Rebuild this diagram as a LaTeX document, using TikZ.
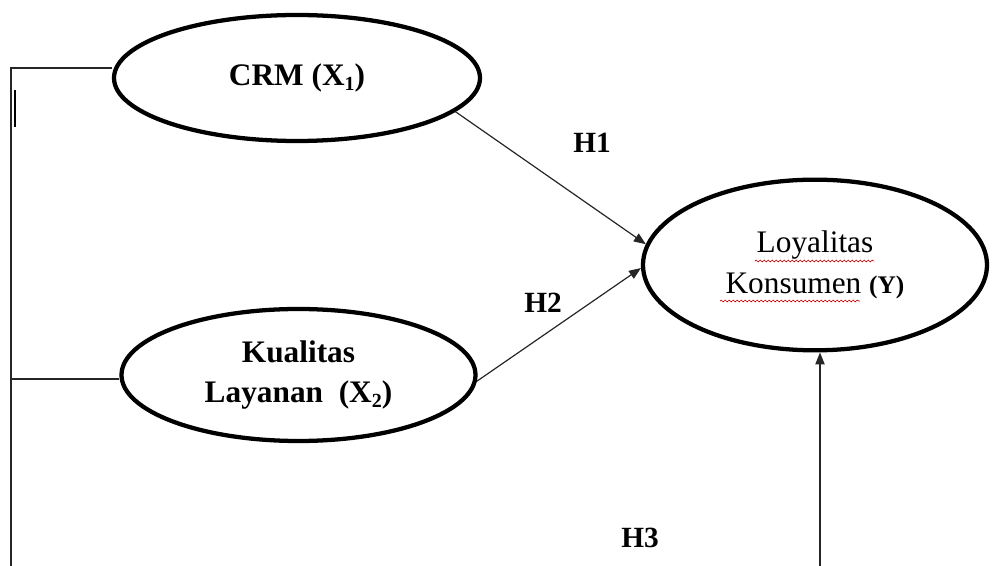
\documentclass[tikz,border=0pt]{standalone}
\usepackage{fontspec}
\setmainfont{Liberation Serif}
\usetikzlibrary{arrows.meta,decorations.pathmorphing,shapes.geometric}
\newcommand{\mysub}[1]{\raisebox{-0.35ex}{\fontsize{15}{15}\selectfont #1}}
\begin{document}
\begin{tikzpicture}[x=0.75pt,y=-0.75pt,
  ell/.style={draw, ellipse, line width=3.2pt, inner sep=0pt, align=center,
    font=\fontsize{23}{29.5}\selectfont},
  hlab/.style={font=\fontsize{22}{24}\selectfont\bfseries},
  conn/.style={line width=0.9pt, draw=black!85},
  arr/.style={conn, -{Triangle[length=9pt,width=7pt]}},
  squig/.style={draw=red!80!black, line width=0.5pt, decorate,
    decoration={snake, amplitude=0.7pt, segment length=3pt}}]
\useasboundingbox (0,0) rectangle (1001,566);
% nodes
\node[ell, minimum width=274.5pt, minimum height=94.5pt, font=\fontsize{23.5}{29.5}\selectfont\bfseries] (crm) at (297,78) {CRM (X\mysub{1})};
\node[ell, minimum width=265.5pt, minimum height=99pt, font=\fontsize{23.5}{29.5}\selectfont\bfseries] (kl) at (298.5,375) {Kualitas\\Layanan\ \ (X\mysub{2})};
\node[ell, minimum width=258pt, minimum height=128pt, font=\fontsize{23.5}{31}\selectfont] (loy) at (815,265) {Loyalitas\\Konsumen {\bfseries\fontsize{19}{19}\selectfont (Y)}};
% labels
\node[hlab] (h1) at (592,143) {H1};
\node[hlab] (h2) at (543,303) {H2};
\node[hlab] (h3) at (640,538) {H3};
% coordinates
\coordinate (tl) at (11,68);
\coordinate (ml) at (11,379);
\coordinate (bl) at (11,566);
\coordinate (b3) at (820,566);
\coordinate (bt) at (15,90);
\coordinate (bb) at (15,127);
% connectors
\draw[conn] (crm.west |- tl) -- (tl) -- (bl);
\draw[conn] (ml) -- (ml -| kl.west);
\draw[line width=2.2pt] (bt) -- (bb);
\draw[arr] (crm.-12) -- (loy.173);
\draw[arr] (kl.-2) -- (loy.181);
\draw[arr] (b3) -- (b3 |- loy.south);
% spell-check squiggles
\draw[squig] (755,261) -- (874,261);
\draw[squig] (720,301) -- (860,301);
\end{tikzpicture}
\end{document}
